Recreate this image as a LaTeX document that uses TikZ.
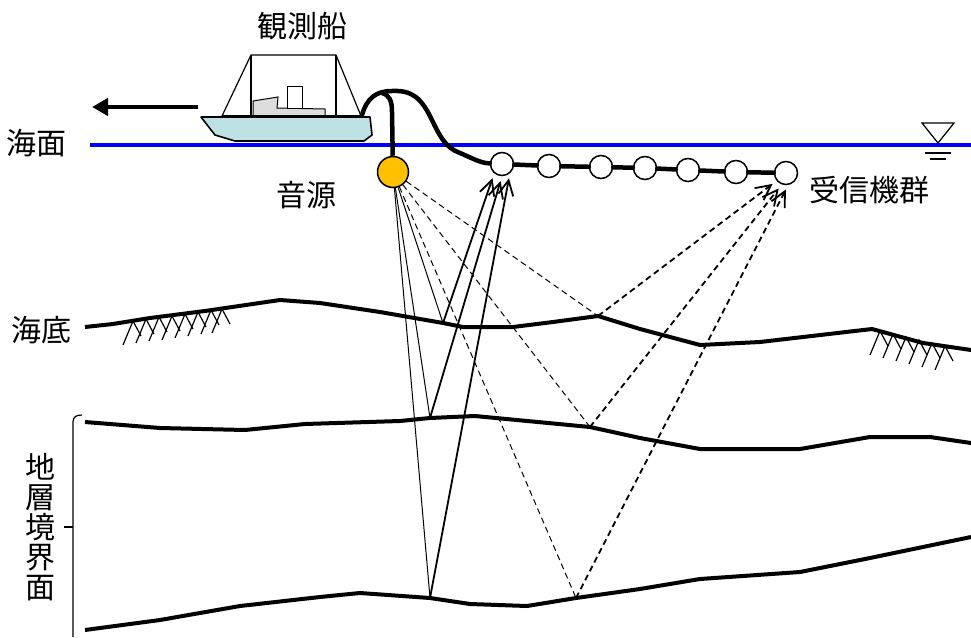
\documentclass[tikz,border=0pt]{standalone}
\usepackage{fontspec}
\newfontfamily\jpfont{Noto Sans CJK JP}
\usepackage{xcolor}
\usepackage{tikz}
\usetikzlibrary{arrows.meta}

\definecolor{hull}{RGB}{190,225,228}
\definecolor{cabin}{RGB}{221,221,221}
\definecolor{gun}{RGB}{255,192,0}

\begin{document}
\begin{tikzpicture}[x=1pt, y=-1pt,
      lbl/.style={font=\jpfont\fontsize{30}{30}\selectfont, inner sep=0pt, align=center},
      bed/.style={line width=4pt, line join=round},
      cable/.style={line width=4.5pt, line join=round, line cap=round},
      src/.style={circle, draw, line width=1.5pt, fill=gun, minimum size=31pt, inner sep=0pt},
      rx/.style={circle, draw, line width=1.5pt, fill=white, minimum size=23pt, inner sep=0pt},
      ray/.style={line width=1pt},
      refl/.style={line width=1.8pt, shorten >=5pt, -{Straight Barb[length=15pt, width=15pt, line width=1.8pt]}},
      dsh/.style={dash pattern=on 6pt off 4pt},
      hatch/.style={line width=1.2pt}]
    \useasboundingbox (0,0) rectangle (971,637);

    % sea surface and water level mark
    \draw[blue, line width=4pt] (90,145) -- (971,145);
    \draw[line width=1.2pt] (922,123) -- (954,123) -- (938,143) -- cycle;
    \draw[line width=1.2pt] (925,153) -- (951,153) (930,159) -- (946,159);

    % ship
    \draw[line width=1.2pt] (222,116) -- (251,55) -- (336,55) -- (361,116);
    \draw[line width=1.2pt] (251,55) -- (251,116) (336,55) -- (336,116);
    \filldraw[fill=cabin, line width=1pt] (253,116) -- (253,101) -- (278,97) -- (277,108) -- (325,109) -- (325,116) -- cycle;
    \filldraw[fill=white, line width=1pt] (287,86) rectangle (302,108);
    \filldraw[fill=hull, line width=1.6pt, line join=round] (201,117) -- (215,135) -- (235,141) -- (364,141) -- (372,135) -- (370,117) -- cycle;
    \draw[line width=2.5pt] (222,116) -- (361,116);
    \coordinate (bow) at (198,107);
    \coordinate (ahead) at (92,107);
    \coordinate (stern) at (362,115);
    \draw[line width=4pt, -{Triangle[length=16pt, width=17pt]}] (bow) -- (ahead);

    % seafloor and layer boundaries
    \draw[bed] (85,327) -- (113,324) -- (150,318) -- (205,311) -- (280,300) -- (320,303) -- (380,312)
      -- (443,323) coordinate (sf1) -- (463,327) -- (513,327) -- (553,322) -- (598,316) coordinate (sf2)
      -- (640,329) -- (700,345) -- (760,342) -- (872,329) -- (923,343) -- (971,350);
    \draw[bed] (85,422) -- (160,428) -- (245,430) -- (305,424) -- (400,421) -- (430,418) coordinate (l1a)
      -- (475,416) -- (590,427) coordinate (l1b) -- (640,438) -- (700,449) -- (800,449) -- (870,437)
      -- (930,437) -- (971,443);
    \draw[bed] (85,630) -- (160,620) -- (240,606) -- (320,597) -- (360,593) -- (430,598) coordinate (l2a)
      -- (470,604) -- (527,606) -- (576,598) coordinate (l2b) -- (640,589) -- (700,579) -- (800,572)
      -- (870,558) -- (971,537);

    \foreach \x/\y in {133/321, 146/319, 159/317, 172/316, 185/314, 198/312, 211/310, 222/309}
      \draw[hatch] (\x-10,\y+24) -- (\x,\y) -- (\x+8,\y+15);
    \foreach \x/\y in {880/331, 893/334, 906/337, 919/340, 932/343, 945/346}
      \draw[hatch] (\x-10,\y+24) -- (\x,\y) -- (\x+8,\y+15);

    % source and streamer
    \node[src] (src) at (393,172) {};
    \foreach \i/\x/\y in {1/502/164, 2/549/166, 3/601/167, 4/645/168, 5/688/170, 6/736/172, 7/786/173}
      \node[rx] (rx\i) at (\x,\y) {};
    \foreach \i [evaluate=\i as \j using int(\i+1)] in {1,...,6}
      \draw[cable] (rx\i) -- (rx\j);
    \draw[cable] (stern) .. controls (367,98) and (376,91) .. (392,91)
      .. controls (412,90) and (421,98) .. (431,118)
      .. controls (440,137) and (446,148) .. (460,153)
      .. controls (472,158) and (480,163) .. (rx1);
    \draw[cable, line cap=butt] (src) -- (392,112) .. controls (392,100) and (389,95) .. (382,93);

    % ray paths
    \draw[ray] (src) -- (sf1);
    \draw[ray] (src) -- (l1a);
    \draw[ray] (src) -- (l2a);
    \draw[refl] (sf1) -- (rx1.-130);
    \draw[refl] (l1a) -- (rx1.south);
    \draw[refl] (l2a) -- (rx1.-50);
    \draw[ray, dsh] (src) -- (sf2);
    \draw[ray, dsh] (src) -- (l1b);
    \draw[ray, dsh] (src) -- (l2b);
    \draw[refl, dsh] (sf2) -- (rx7.-140);
    \draw[refl, dsh] (l1b) -- (rx7.-110);
    \draw[refl, dsh] (l2b) -- (rx7.-80);

    % bracket for the layer boundaries
    \draw[line width=1.2pt] (82,415) .. controls (76,415) and (73,417) .. (73,422) -- (73,637);
    \draw[line width=1.2pt] (73,527) -- (64,527);

    % labels
    \node[lbl] (ship) at (302,26) {観測船};
    \node[lbl] (sea) at (36,143) {海面};
    \node[lbl] (gunlbl) at (306,195) {音源};
    \node[lbl] (rxlbl) at (869,190) {受信機群};
    \node[lbl] (floor) at (42,330) {海底};
    \node[lbl] (layers) at (40,527) {地\\層\\境\\界\\面};
  \end{tikzpicture}
\end{document}
